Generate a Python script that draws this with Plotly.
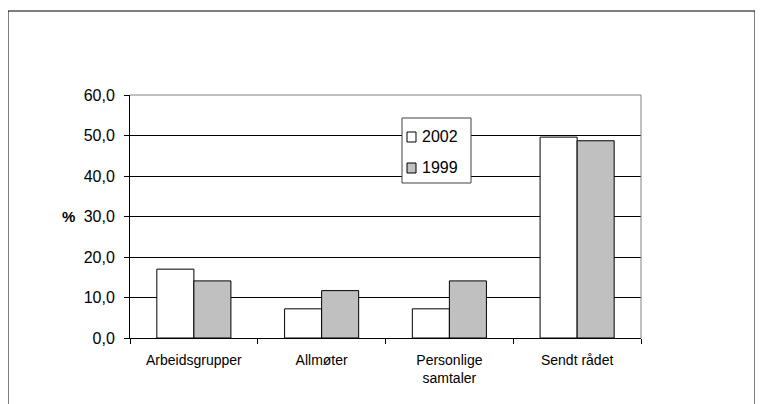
import plotly.graph_objects as go

categories = ["Arbeidsgrupper", "Allmøter", "Personlige<br>samtaler", "Sendt rådet"]
values_2002 = [17.0, 7.2, 7.2, 49.6]
values_1999 = [14.1, 11.7, 14.1, 48.7]
y_ticks = [0, 10, 20, 30, 40, 50, 60]

# page is drawn with an 8px body margin, so the figure is a bit smaller
OFF = 8
W, H = 763 - OFF, 404 - OFF
L, T = 130 - OFF, 95 - OFF
pw, ph = 511, 243
R, B = W - L - pw, H - T - ph

FONT = "Liberation Sans, Arial, sans-serif"
colors = {"2002": "white", "1999": "#c0c0c0"}


def px_x(x):
    # page pixel -> paper x
    return (x - OFF - L) / pw


def px_y(y):
    # page pixel -> paper y
    return (H + OFF - B - y) / ph


fig = go.Figure()
fig.add_trace(go.Bar(
    x=categories, y=values_2002, name="2002",
    marker=dict(color=colors["2002"], line=dict(color="black", width=1)),
))
fig.add_trace(go.Bar(
    x=categories, y=values_1999, name="1999",
    marker=dict(color=colors["1999"], line=dict(color="black", width=1)),
))

# outer chart frame
fig.add_shape(type="rect", xref="paper", yref="paper",
              x0=px_x(8), x1=px_x(755), y0=px_y(440), y1=px_y(11),
              line=dict(color="black", width=1), fillcolor="rgba(0,0,0,0)",
              layer="below")
# top/right plot border in gray
fig.add_shape(type="line", xref="paper", yref="paper", x0=0, x1=1, y0=1, y1=1,
              line=dict(color="#808080", width=1))
fig.add_shape(type="line", xref="paper", yref="paper", x0=1, x1=1, y0=0, y1=1,
              line=dict(color="#808080", width=1))

# y axis title
fig.add_annotation(text="<b>%</b>", xref="paper", yref="y", x=px_x(77), y=30,
                   xanchor="right", yanchor="middle", showarrow=False,
                   font=dict(family=FONT, size=15, color="black"))

# legend box
fig.add_shape(type="rect", xref="paper", yref="paper",
              x0=px_x(402), x1=px_x(471), y0=px_y(183), y1=px_y(118),
              line=dict(color="#404040", width=1), fillcolor="white")
for name, yc in [("2002", 137), ("1999", 168)]:
    fig.add_shape(type="rect", xref="paper", yref="paper",
                  x0=px_x(407), x1=px_x(416), y0=px_y(yc + 5), y1=px_y(yc - 5),
                  line=dict(color="black", width=1), fillcolor=colors[name])
    fig.add_annotation(text=name, xref="paper", yref="paper",
                       x=px_x(420), y=px_y(yc - 1), xanchor="left", yanchor="middle",
                       showarrow=False,
                       font=dict(family=FONT, size=16, color="black"))

fig.update_layout(
    width=W, height=H,
    margin=dict(l=L, r=R, t=T, b=B, autoexpand=False),
    paper_bgcolor="white", plot_bgcolor="white",
    barmode="group", bargap=0.42, bargroupgap=0,
    separators=",.",
    font=dict(family=FONT, color="black"),
    showlegend=False,
)
fig.update_xaxes(
    showline=True, linecolor="black", linewidth=1,
    ticks="outside", tickson="boundaries", ticklen=5, tickcolor="black",
    tickfont=dict(size=14), showgrid=False, ticklabelstandoff=9,
)
fig.update_yaxes(
    range=[0, 60], tickvals=y_ticks, tickformat=".1f",
    showline=True, linecolor="black", linewidth=1,
    ticks="outside", ticklen=5, tickcolor="black", ticklabelstandoff=6,
    showgrid=True, gridcolor="black", gridwidth=1,
    tickfont=dict(size=16), zeroline=False,
)

fig.write_html("out.html")
